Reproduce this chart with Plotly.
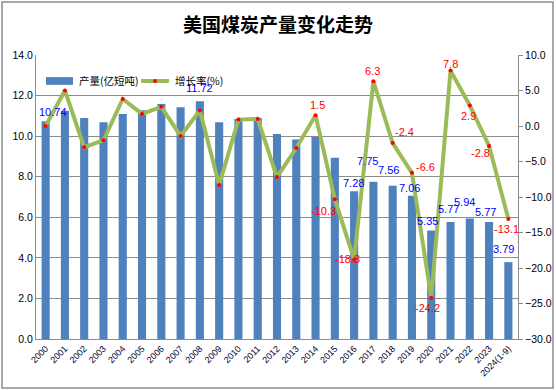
import plotly.graph_objects as go

years = ["2000", "2001", "2002", "2003", "2004", "2005", "2006", "2007", "2008", "2009",
         "2010", "2011", "2012", "2013", "2014", "2015", "2016", "2017", "2018", "2019",
         "2020", "2021", "2022", "2023", "2024(1-9)"]
output = [10.74, 11.25, 10.89, 10.69, 11.09, 11.28, 11.58, 11.43, 11.72, 10.69,
          10.85, 10.89, 10.10, 9.84, 9.97, 8.93, 7.28, 7.75, 7.56, 7.06,
          5.35, 5.77, 5.94, 5.77, 3.79]
growth = [0.0, 5.0, -3.0, -2.0, 3.8, 1.7, 2.7, -1.4, 2.2, -8.3,
          0.9, 1.0, -7.2, -3.1, 1.5, -10.3, -18.8, 6.3, -2.4, -6.6,
          -24.2, 7.8, 2.9, -2.8, -13.1]
series_names = ["产量(亿短吨)", "增长率(%)"]

# which points get value labels
bar_label_idx = [0, 8, 16, 17, 18, 19, 20, 21, 22, 23, 24]
line_label_idx = [14, 15, 16, 17, 18, 19, 20, 21, 22, 23, 24]

# label offsets (pixels) - styling only
bar_label_shift = [(7, 9), (0, 13), (-1, 8), (-6, 21), (-4, 16), (-2, 8), (-4, 9), (-2, 13), (-5, 17), (-4, 10), (-5, 13)]
line_label_shift = [(2, 10), (-11, -12), (-7, 0), (-1, 10), (12, 11), (14, 6), (-4, -10), (0, 7), (-1, -11), (-9, -7), (-2, -10)]

BAR_COLOR = "#4F81BD"
LINE_COLOR = "#9BBB59"
GRID = "#8C8C8C"
FONT = "Liberation Sans, Noto Sans CJK SC, sans-serif"
CJK = "Noto Sans CJK SC, sans-serif"

fig = go.Figure()
fig.add_trace(go.Bar(x=years, y=output, name=series_names[0], marker_color=BAR_COLOR,
                     marker_line_width=0, yaxis="y", showlegend=False))
fig.add_trace(go.Scatter(x=years, y=growth, name=series_names[1], mode="lines+markers",
                         line=dict(color=LINE_COLOR, width=4),
                         marker=dict(color="#FF0000", size=4, symbol="circle"),
                         yaxis="y2", showlegend=False))

annotations = []
for k, i in enumerate(bar_label_idx):
    dx, dy = bar_label_shift[k]
    annotations.append(dict(x=i, y=output[i], xref="x", yref="y", text=f"{output[i]:.2f}",
                            showarrow=False, xshift=dx, yshift=dy,
                            font=dict(color="#0000FF", size=11, family=FONT)))
for k, i in enumerate(line_label_idx):
    dx, dy = line_label_shift[k]
    annotations.append(dict(x=i, y=growth[i], xref="x", yref="y2", text=f"{growth[i]:.1f}",
                            showarrow=False, xshift=dx, yshift=dy,
                            font=dict(color="#FF0000", size=11, family=FONT)))

# custom legend (text + swatches)
LEG_Y = 0.9085
annotations.append(dict(x=0.085, y=LEG_Y, xref="paper", yref="paper", text=series_names[0],
                        showarrow=False, xanchor="left", yanchor="middle",
                        font=dict(family=CJK, size=10.5, color="#000000")))
annotations.append(dict(x=0.2842, y=LEG_Y, xref="paper", yref="paper", text=series_names[1],
                        showarrow=False, xanchor="left", yanchor="middle",
                        font=dict(family=CJK, size=10.5, color="#000000")))

shapes = [
    dict(type="rect", xref="paper", yref="paper", x0=-0.0705, x1=1.0726, y0=-0.1725, y1=1.1866,
         line=dict(color="#8C8C8C", width=1.5), fillcolor="rgba(0,0,0,0)", layer="below"),
    dict(type="rect", xref="paper", yref="paper", x0=0.0207, x1=0.0768, y0=0.895, y1=0.922,
         line=dict(width=0), fillcolor=BAR_COLOR),
    dict(type="line", xref="paper", yref="paper", x0=0.2178, x1=0.2759, y0=LEG_Y, y1=LEG_Y,
         line=dict(color=LINE_COLOR, width=4)),
    dict(type="circle", xref="paper", yref="paper", x0=0.2469 - 0.004, x1=0.2469 + 0.004,
         y0=LEG_Y - 0.007, y1=LEG_Y + 0.007, line=dict(width=0), fillcolor="#FF0000"),
]

fig.update_layout(
    width=556, height=390,
    margin=dict(l=36, r=38, t=55, b=51),
    paper_bgcolor="white", plot_bgcolor="white",
    font=dict(family=FONT, size=10.5, color="#000000"),
    title=dict(text="<b>美国煤炭产量变化走势</b>", x=0.5, xanchor="center", y=0.935, yanchor="middle",
               font=dict(family=CJK, size=19, color="#000000")),
    bargap=0.58,
    showlegend=False,
    xaxis=dict(type="category", range=[-0.5, len(years) - 0.5], tickangle=-45,
               tickfont=dict(size=9, color="#000033"), automargin=False,
               showline=True, linecolor=GRID, linewidth=1, showgrid=False, ticks=""),
    yaxis=dict(range=[0, 14], dtick=2, tickformat=".1f", showgrid=True, gridcolor=GRID, gridwidth=1,
               showline=True, linecolor=GRID, linewidth=1, zeroline=False, ticks="",
               tickfont=dict(size=10.5), automargin=False),
    yaxis2=dict(range=[-30, 10], dtick=5, tickformat=".1f", overlaying="y", side="right",
                showgrid=False, zeroline=False, showline=True, linecolor=GRID, linewidth=1,
                ticks="outside", ticklen=4, tickcolor=GRID, tickfont=dict(size=10.5), automargin=False),
    annotations=annotations,
    shapes=shapes,
)

fig.write_html("out.html", config={"displayModeBar": False},
               post_script="document.body.style.margin='0px';")
